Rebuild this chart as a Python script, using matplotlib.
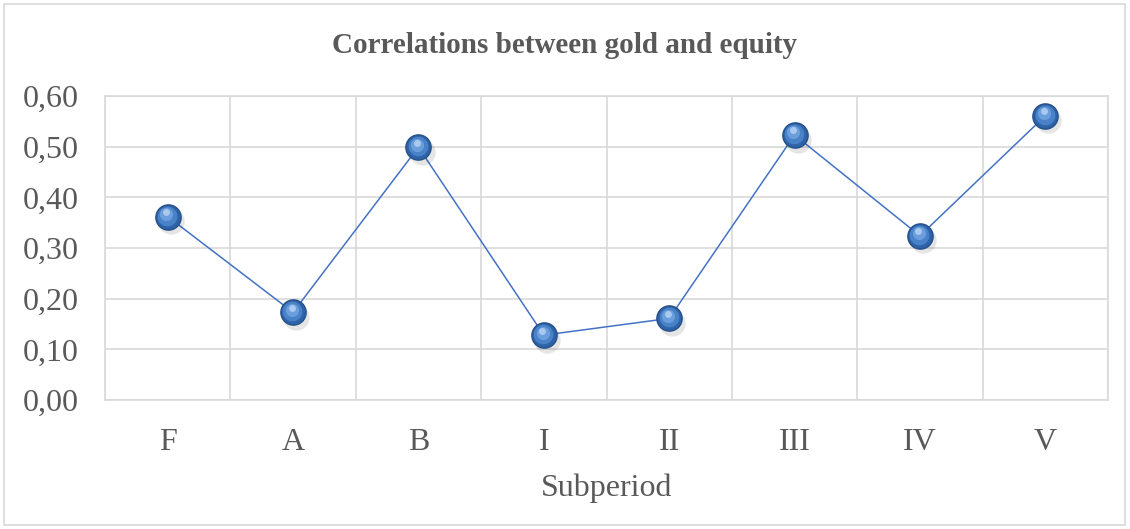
import matplotlib
matplotlib.use("Agg")
import matplotlib.pyplot as plt
from matplotlib.patches import Rectangle
from matplotlib.ticker import FuncFormatter, MultipleLocator

categories = ["F", "A", "B", "I", "II", "III", "IV", "V"]
values = [0.362, 0.173, 0.499, 0.128, 0.161, 0.523, 0.324, 0.561]

W, H = 1130, 529
fig = plt.figure(figsize=(W / 100, H / 100), dpi=100)
plt.rcParams['font.family'] = ['Liberation Serif', 'DejaVu Serif']

# outer chart border
fig.patches.append(Rectangle((4 / W, 4 / H), (1125 - 4) / W, (525 - 4) / H,
                             transform=fig.transFigure, fill=False,
                             edgecolor="#d9d9d9", linewidth=1.2))

left, right, top, bottom = 105, 1108, 96, 400
ax = fig.add_axes([left / W, 1 - bottom / H, (right - left) / W, (bottom - top) / H])

x = list(range(len(categories)))
ax.plot(x, values, color="#4472c4", linewidth=1.1, zorder=3)
# shadow
ax.scatter([xi + 0.025 for xi in x], [v - 0.009 for v in values], s=360,
           color="#000000", alpha=0.10, linewidths=0, zorder=3)
ax.scatter(x, values, s=330, color="#2f63a8", edgecolors="#25508a",
           linewidths=1.0, zorder=4)
ax.scatter([xi - 0.005 for xi in x], [v + 0.002 for v in values], s=200,
           color="#4a82c9", linewidths=0, zorder=5)
ax.scatter([xi - 0.01 for xi in x], [v + 0.005 for v in values], s=90,
           color="#6a9edc", linewidths=0, zorder=6)
ax.scatter([xi - 0.012 for xi in x], [v + 0.009 for v in values], s=25,
           color="#a9c9ee", linewidths=0, zorder=7)

ax.set_xlim(-0.5, len(categories) - 0.5)
ax.set_ylim(0, 0.6)
ax.yaxis.set_major_locator(MultipleLocator(0.1))
ax.yaxis.set_major_formatter(FuncFormatter(lambda v, p: f"{v:.2f}".replace(".", ",")))
ax.set_xticks(x)
ax.set_xticklabels(categories)
ax.set_xticks([i - 0.5 for i in range(len(categories) + 1)], minor=True)
ax.grid(True, which="major", axis="y", color="#d9d9d9", linewidth=1.2)
ax.grid(True, which="minor", axis="x", color="#d9d9d9", linewidth=1.2)
ax.set_axisbelow(True)
for s in ax.spines.values():
    s.set_color("#d9d9d9")
    s.set_linewidth(1.2)
ax.tick_params(which="both", length=0)
ax.tick_params(axis="y", labelsize=23, labelcolor="#595959", pad=19)
ax.tick_params(axis="x", labelsize=23, labelcolor="#595959", pad=20)
ax.set_xlabel("Subperiod", fontsize=23, color="#595959", labelpad=12)

fig.text(565 / W, 1 - 46 / H, "Correlations between gold and equity",
         ha="center", va="center", fontsize=21, fontweight="bold", color="#595959")

fig.savefig("out.png", dpi=100)
